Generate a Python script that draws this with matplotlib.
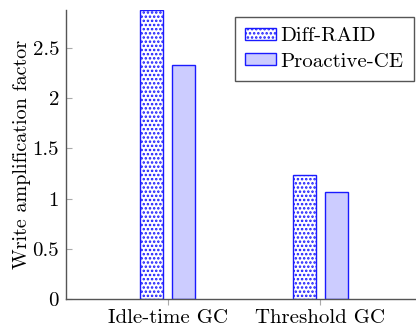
import matplotlib
matplotlib.use('Agg')
from matplotlib import pyplot as plt
import numpy as np

groups = ['Idle-time GC', 'Threshold GC']
diff_raid = [2.88, 1.24]
proactive_ce = [2.33, 1.07]

plt.rcParams['font.family'] = 'cmr10'
plt.rcParams['axes.formatter.use_mathtext'] = True
plt.rcParams['hatch.linewidth'] = 1.2
plt.rcParams['hatch.color'] = '#1a1aff'

fig = plt.figure(figsize=(4.16, 3.35), dpi=100)
ax = fig.add_axes([66/416, 36/335, 356/416, 289/335])

x = np.arange(len(groups))
w = 0.153
off = 0.105
ax.bar(x - off, diff_raid, w, facecolor='white', edgecolor='#1a1aff',
       hatch='....', linewidth=1.0, label='Diff-RAID')
ax.bar(x + off, proactive_ce, w, facecolor='#ccccff', edgecolor='#1a1aff',
       linewidth=1.0, label='Proactive-CE')

ax.set_xlim(-0.668, 1.668)
ax.set_ylim(0, 2.88)
ax.set_xticks(x)
ax.set_xticklabels(groups, fontsize=15)
ax.set_yticks([0, 0.5, 1, 1.5, 2, 2.5])
ax.set_yticklabels(['0', '0.5', '1', '1.5', '2', '2.5'], fontsize=15)
ax.set_ylabel('Write amplification factor', fontsize=14.5, labelpad=1)

for s in ['top', 'right']:
    ax.spines[s].set_visible(False)
for s in ['left', 'bottom']:
    ax.spines[s].set_color('#555555')
    ax.spines[s].set_linewidth(1.0)
ax.tick_params(axis='y', direction='in', length=4, color='#aaaaaa', pad=5)
ax.tick_params(axis='x', direction='out', length=4, color='#aaaaaa', pad=3)

leg = ax.legend(loc='upper right', bbox_to_anchor=(414/416, 1 - 17/335),
                bbox_transform=fig.transFigure, borderaxespad=0,
                fontsize=15, fancybox=False, edgecolor='#555555',
                framealpha=1, handlelength=1.5, handleheight=0.5,
                borderpad=0.5, labelspacing=0.35, handletextpad=0.2)
leg.get_frame().set_linewidth(1.0)

fig.savefig('out.png', dpi=100)
